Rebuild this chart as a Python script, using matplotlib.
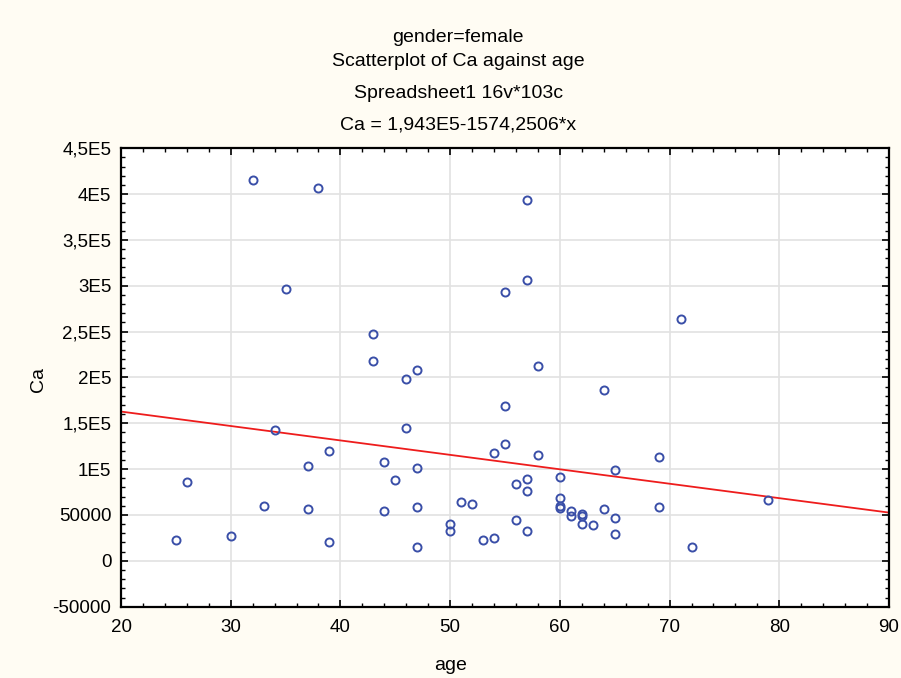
import matplotlib
matplotlib.use("Agg")
import matplotlib.pyplot as plt
from matplotlib.ticker import MultipleLocator, FixedLocator
import numpy as np

plt.rcParams['font.family'] = ['Liberation Sans', 'DejaVu Sans']

# Female subgroup: age vs Ca
age = [32, 38, 35, 43, 43, 46, 57, 57, 55, 71, 47, 58,
       34, 46, 39, 37, 44, 45, 26, 33, 37, 44, 25, 30, 39,
       64, 55, 55, 54, 58, 69, 47, 65, 60, 57, 56, 57, 60,
       51, 52, 47, 60, 60, 64, 69, 61, 61, 62, 62, 62, 63,
       65, 56, 50, 50, 57, 65, 54, 53, 47, 72, 79]
ca = [415000, 407000, 296700, 247400, 218000, 198500, 393300, 306500, 292700, 263300, 208000, 212100,
      143100, 145000, 119500, 103600, 107900, 87900, 85700, 60300, 56300, 54600, 23000, 26900, 20800,
      186400, 168500, 127500, 117700, 115600, 113400, 101700, 99600, 91900, 89800, 84000, 75900, 68500,
      64000, 62300, 58500, 59500, 58000, 56500, 58500, 54600, 48600, 51300, 48600, 40500, 38900,
      46500, 44500, 40000, 33000, 32800, 29200, 24700, 22700, 15400, 15400, 66500]

# Fitted regression: Ca = 1.943E5 - 1574.2506 * age
intercept = 194300
slope = -1574.2506

x_limits = [20, 90]
y_limits = [-50000, 450000]
y_ticks = [-50000, 0, 50000, 100000, 150000, 200000, 250000, 300000, 350000, 400000, 450000]
y_tick_labels = ["-50000", "0", "50000", "1E5", "1,5E5", "2E5", "2,5E5", "3E5", "3,5E5", "4E5", "4,5E5"]
x_ticks = [20, 30, 40, 50, 60, 70, 80, 90]

title_lines = ["gender=female", "Scatterplot of Ca against age",
               "Spreadsheet1 16v*103c", "Ca = 1,943E5-1574,2506*x"]

bg = "#fffcf3"
fig = plt.figure(figsize=(9.01, 6.78), dpi=100, facecolor=bg)
ax = fig.add_axes([0.1343, 0.1052, 0.8524, 0.6761])
ax.set_facecolor("white")

ax.set_xlim(*x_limits)
ax.set_ylim(*y_limits)

ax.grid(True, color="#e2e2e2", linewidth=1.2, zorder=0)
ax.set_axisbelow(True)

xl = np.array(x_limits, dtype=float)
ax.plot(xl, intercept + slope * xl, color="#ee1c1c", linewidth=1.3, zorder=2)

ax.plot(age, ca, linestyle="none", marker="o", markersize=5.8,
        markerfacecolor="none", markeredgecolor="#3a4fa8", markeredgewidth=1.4, zorder=3)

ax.xaxis.set_major_locator(FixedLocator(x_ticks))
ax.xaxis.set_minor_locator(MultipleLocator(2))
ax.yaxis.set_major_locator(FixedLocator(y_ticks))
ax.yaxis.set_minor_locator(MultipleLocator(10000))
ax.set_yticklabels(y_tick_labels)
ax.set_xticklabels([str(t) for t in x_ticks])

ax.tick_params(which="both", direction="in", top=True, right=True, colors="black")
ax.tick_params(which="major", length=5, width=1.2, labelsize=13.5, pad=7)
ax.tick_params(which="minor", length=3, width=1.0)
ax.tick_params(axis="x", which="major", pad=9)
for sp in ax.spines.values():
    sp.set_linewidth(1.6)
    sp.set_color("black")

fig.text(0.5, 1 - 665 / 678, "age", ha="center", va="center", fontsize=14)
fig.text(38 / 901, 1 - 380 / 678, "Ca", ha="center", va="center", rotation=90, fontsize=14)

title_y = [37, 62, 93, 125]
for line, yp in zip(title_lines, title_y):
    fig.text(458 / 901, 1 - yp / 678, line, ha="center", va="center", fontsize=14)

fig.savefig("out.png", dpi=100, facecolor=bg)
